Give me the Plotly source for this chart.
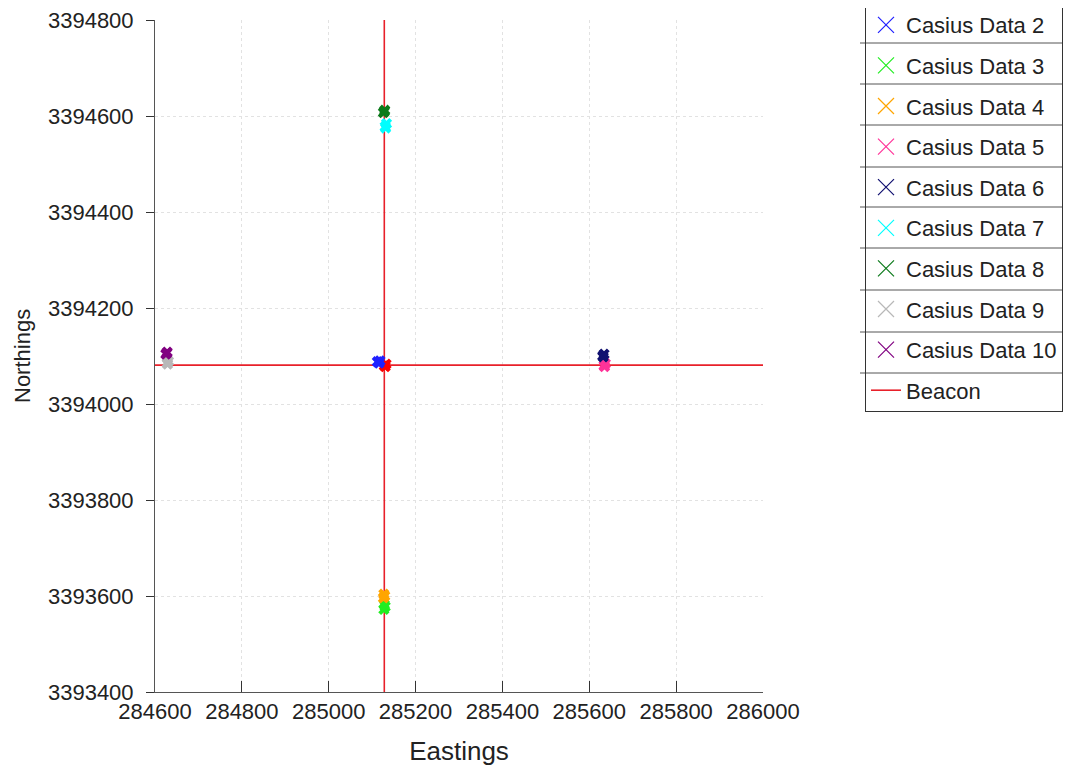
import plotly.graph_objects as go

# ---- data ----
series_names = ["Casius Data 1", "Casius Data 2", "Casius Data 3", "Casius Data 4", "Casius Data 5",
                "Casius Data 6", "Casius Data 7", "Casius Data 8", "Casius Data 9", "Casius Data 10"]
series_colors = ["#ff0000", "#2020ff", "#22ee22", "#ffa500", "#ff3399",
                 "#101070", "#00ffff", "#0b7a1a", "#b8b8b8", "#800080"]
e1 = [285128, 285132, 285130]
n1 = [3394080, 3394083, 3394078]
e2 = [285112, 285116, 285118]
n2 = [3394088, 3394085, 3394090]
e3 = [285127, 285130, 285128]
n3 = [3393572, 3393578, 3393582]
e4 = [285126, 285129, 285127]
n4 = [3393596, 3393600, 3393604]
e5 = [285634, 285637, 285635]
n5 = [3394080, 3394084, 3394078]
e6 = [285631, 285634, 285632]
n6 = [3394100, 3394104, 3394098]
e7 = [285130, 285133, 285131]
n7 = [3394578, 3394584, 3394575]
e8 = [285126, 285129, 285128]
n8 = [3394607, 3394612, 3394609]
e9 = [284628, 284631, 284629]
n9 = [3394085, 3394089, 3394083]
e10 = [284625, 284628, 284627]
n10 = [3394104, 3394108, 3394106]
eastings = [e1, e2, e3, e4, e5, e6, e7, e8, e9, e10]
northings = [n1, n2, n3, n4, n5, n6, n7, n8, n9, n10]

beacon_e = 285128
beacon_n = 3394081
x_range = [284600, 286000]
y_range = [3393400, 3394800]
x_ticks = [284600, 284800, 285000, 285200, 285400, 285600, 285800, 286000]
y_ticks = [3393400, 3393600, 3393800, 3394000, 3394200, 3394400, 3394600, 3394800]

FONT = "Liberation Sans, Arial, sans-serif"

fig = go.Figure()

# beacon cross (drawn first, beneath markers)
fig.add_trace(go.Scatter(
    x=[beacon_e, beacon_e, None, x_range[0], x_range[1]],
    y=[y_range[0], y_range[1], None, beacon_n, beacon_n],
    mode="lines", line=dict(color="#e8202a", width=1.6),
    showlegend=False, hoverinfo="skip"))

# data markers
for name, col, ex, ny in zip(series_names, series_colors, eastings, northings):
    fig.add_trace(go.Scatter(
        x=ex, y=ny, mode="markers", name=name,
        marker=dict(symbol="x", size=10, color=col, line=dict(width=0)),
        showlegend=False))

# legend entries (legend only)
for i, (name, col) in enumerate(zip(series_names, series_colors)):
    if i == 0:
        continue
    fig.add_trace(go.Scatter(
        x=[None], y=[None], mode="markers", name=name, legendgroup=name,
        marker=dict(symbol="x-thin-open", size=22, color=col, line=dict(width=1.2, color=col))))
fig.add_trace(go.Scatter(
    x=[None], y=[None], mode="lines", name="Beacon", legendgroup="Beacon",
    line=dict(color="#e8202a", width=1.6)))

# layout geometry (page offset of 8px from the browser body margin)
OFF = 8
L, T, H = 147, 12, 672
W = 608
FIG_W, FIG_H = 1057, 758
def px_x(p):
    return (p - OFF - L) / W
def px_y(p):
    return (T + H - (p - OFF)) / H

# legend row separators
for sep in [43, 84, 125, 167, 207, 248, 290, 332, 373]:
    fig.add_shape(type="line", xref="paper", yref="paper",
                  x0=px_x(860), x1=px_x(1063), y0=px_y(sep), y1=px_y(sep),
                  line=dict(color="#555555", width=1))

fig.add_annotation(text="Northings", xref="paper", yref="paper",
                   x=px_x(22), y=0.5, xanchor="center", yanchor="middle",
                   textangle=-90, showarrow=False,
                   font=dict(family=FONT, size=22, color="#222222"))

fig.update_layout(
    width=FIG_W, height=FIG_H,
    margin=dict(l=L, r=FIG_W - L - W, t=T, b=FIG_H - T - H, autoexpand=False),
    paper_bgcolor="white", plot_bgcolor="white",
    font=dict(family=FONT, size=22, color="#222222"),
    legend=dict(x=px_x(1063), y=px_y(3), xanchor="right", yanchor="top",
                bordercolor="#333333", borderwidth=1, bgcolor="rgba(0,0,0,0)",
                font=dict(family=FONT, size=22, color="#222222"),
                tracegroupgap=9, itemsizing="trace", traceorder="grouped",
                maxheight=600),
    xaxis=dict(range=x_range, tickvals=x_ticks, ticktext=[str(v) for v in x_ticks],
               showgrid=True, gridcolor="#e2e2e2", griddash="dot",
               showline=True, linecolor="#555555", linewidth=1,
               ticks="inside", ticklen=11, tickcolor="#333333",
               ticklabeloverflow="allow",
               zeroline=False, title=dict(text="Eastings", standoff=18),
               tickfont=dict(size=22)),
    yaxis=dict(range=y_range, tickvals=y_ticks, ticktext=[str(v) for v in y_ticks],
               showgrid=True, gridcolor="#e2e2e2", griddash="dot",
               showline=True, linecolor="#555555", linewidth=1,
               ticks="outside", ticklen=8, tickcolor="#333333",
               ticklabelstandoff=8, ticklabeloverflow="allow",
               zeroline=False, tickfont=dict(size=22)),
)

fig.write_html("out.html")
